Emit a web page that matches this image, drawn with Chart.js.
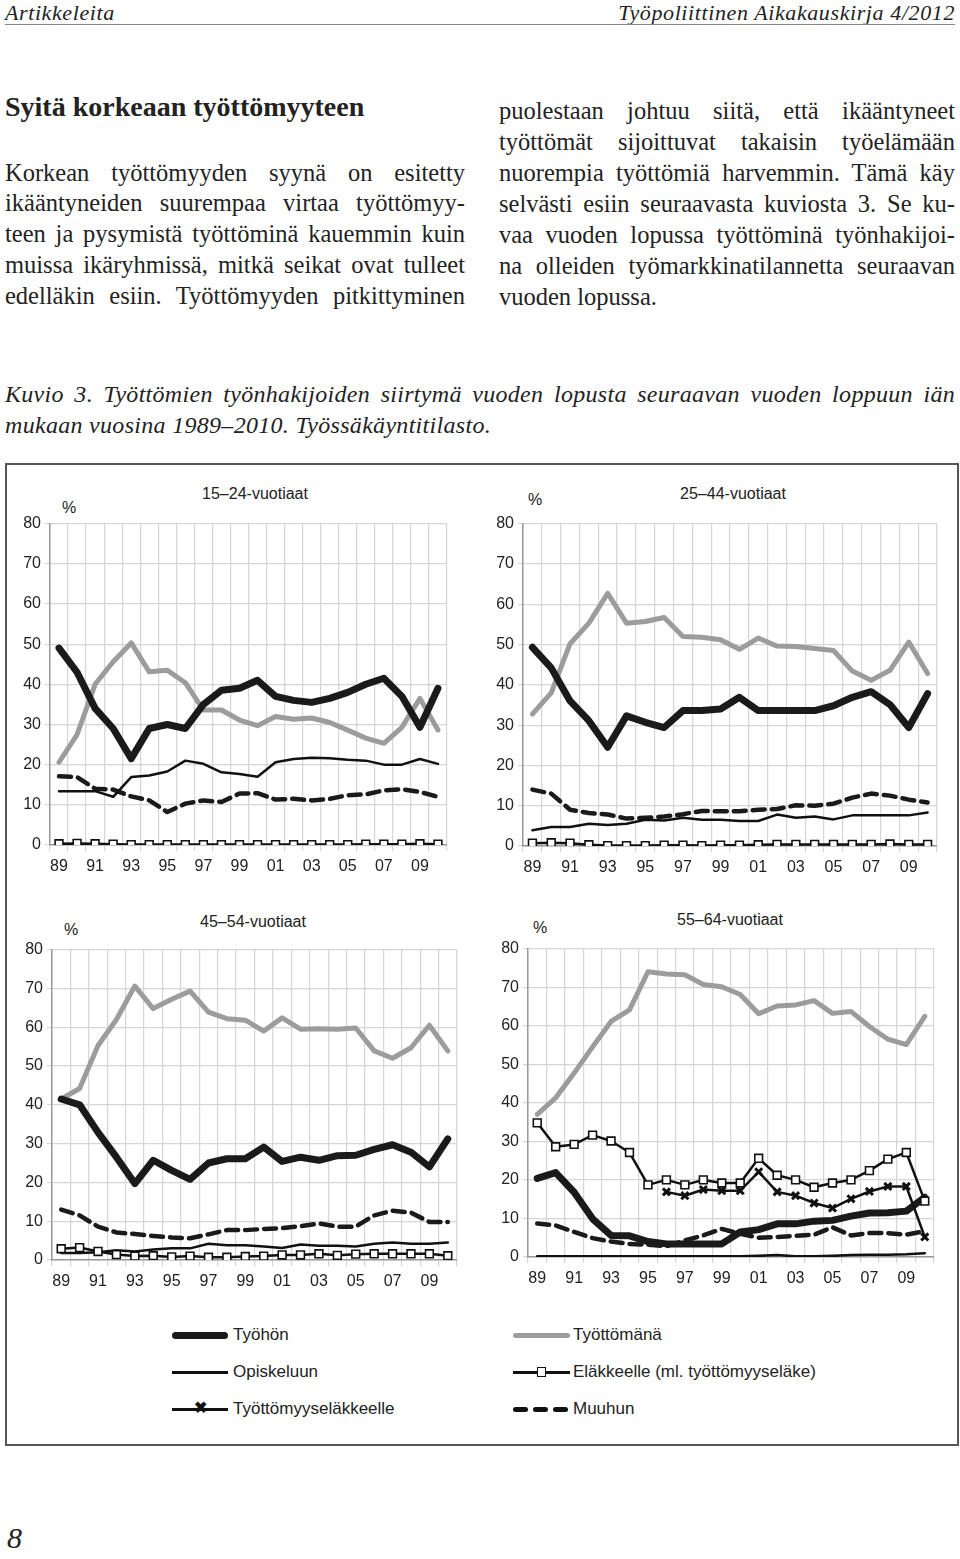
<!DOCTYPE html>
<html>
<head>
<meta charset="utf-8">
<script src="https://cdn.jsdelivr.net/npm/chart.js@4.4.1/dist/chart.umd.min.js"></script>
<style>
  body { margin: 0; background: #fff; width: 960px; height: 1559px; position: relative; overflow: hidden; }
  .abs { position: absolute; }
  .serif { font-family: "Liberation Serif", "Times New Roman", serif; color: #222; }
  .line { position: absolute; white-space: nowrap; text-align: justify; text-align-last: justify; font-size: 24.5px; line-height: 26px; }
  .sans { font-family: "Liberation Sans", Arial, sans-serif; color: #222; }
  .ttl { font-size: 16px; transform: translate(-50%, -50%); white-space: nowrap; }
  .pct { font-size: 16px; }
  .leg { font-size: 17px; }
  .sw { position: absolute; }
  canvas { position: absolute; }
</style>
</head>
<body>

<div class="abs serif" style="left:5px;top:0px;font-size:22px;letter-spacing:0.6px;font-style:italic;">Artikkeleita</div>
<div class="abs serif" style="right:5px;top:0px;font-size:22px;letter-spacing:0.6px;font-style:italic;">Työpoliittinen Aikakauskirja 4/2012</div>
<div class="abs" style="left:5px;top:24px;width:950px;height:1px;background:#888;"></div>

<div class="abs serif" style="left:5px;top:91px;font-size:28px;font-weight:bold;">Syitä korkeaan työttömyyteen</div>

<div class="line serif" style="left:5px;width:460px;top:160px;">Korkean työttömyyden syynä on esitetty</div>
<div class="line serif" style="left:5px;width:460px;top:190px;">ikääntyneiden suurempaa virtaa työttömyy-</div>
<div class="line serif" style="left:5px;width:460px;top:221px;">teen ja pysymistä työttöminä kauemmin kuin</div>
<div class="line serif" style="left:5px;width:460px;top:252px;">muissa ikäryhmissä, mitkä seikat ovat tulleet</div>
<div class="line serif" style="left:5px;width:460px;top:283px;">edelläkin esiin. Työttömyyden pitkittyminen</div>

<div class="line serif" style="left:499px;width:456px;top:98px;">puolestaan johtuu siitä, että ikääntyneet</div>
<div class="line serif" style="left:499px;width:456px;top:129px;">työttömät sijoittuvat takaisin työelämään</div>
<div class="line serif" style="left:499px;width:456px;top:160px;">nuorempia työttömiä harvemmin. Tämä käy</div>
<div class="line serif" style="left:499px;width:456px;top:191px;">selvästi esiin seuraavasta kuviosta 3. Se ku-</div>
<div class="line serif" style="left:499px;width:456px;top:222px;">vaa vuoden lopussa työttöminä työnhakijoi-</div>
<div class="line serif" style="left:499px;width:456px;top:253px;">na olleiden työmarkkinatilannetta seuraavan</div>
<div class="abs serif" style="left:499px;top:284px;font-size:24.5px;line-height:26px;">vuoden lopussa.</div>

<div class="line serif" style="left:5px;width:950px;top:381px;font-size:24px;letter-spacing:0.3px;font-style:italic;">Kuvio 3. Työttömien työnhakijoiden siirtymä vuoden lopusta seuraavan vuoden loppuun iän</div>
<div class="abs serif" style="left:5px;top:412px;font-size:24px;letter-spacing:0.3px;line-height:26px;font-style:italic;">mukaan vuosina 1989–2010. Työssäkäyntitilasto.</div>

<div class="abs" style="left:5px;top:463px;width:950px;height:979px;border:2px solid #555;"></div>

<div class="abs sans ttl" style="left:255px;top:494px;">15–24-vuotiaat</div>
<div class="abs sans pct" style="left:62px;top:499px;">%</div>
<div class="abs sans ttl" style="left:733px;top:494px;">25–44-vuotiaat</div>
<div class="abs sans pct" style="left:528px;top:491px;">%</div>
<div class="abs sans ttl" style="left:253px;top:922px;">45–54-vuotiaat</div>
<div class="abs sans pct" style="left:64px;top:921px;">%</div>
<div class="abs sans ttl" style="left:730px;top:920px;">55–64-vuotiaat</div>
<div class="abs sans pct" style="left:533px;top:919px;">%</div>

<canvas id="c1" width="450" height="368" style="left:5px;top:510px;"></canvas>
<canvas id="c2" width="467" height="369" style="left:478px;top:510px;"></canvas>
<canvas id="c3" width="458" height="357" style="left:7px;top:936px;"></canvas>
<canvas id="c4" width="459" height="355" style="left:483px;top:935px;"></canvas>

<!-- legend -->
<div class="sw" style="left:172px;top:1332px;width:56px;height:7px;border-radius:4px;background:#1a1a1a;"></div>
<div class="abs sans leg" style="left:233px;top:1325px;">Työhön</div>
<div class="sw" style="left:172px;top:1371px;width:56px;height:3px;background:#111;"></div>
<div class="abs sans leg" style="left:233px;top:1362px;">Opiskeluun</div>
<div class="sw" style="left:172px;top:1408px;width:56px;height:3px;background:#111;"></div>
<div class="abs sans" style="left:194px;top:1398px;font-size:16px;font-weight:bold;color:#111;">✖</div>
<div class="abs sans leg" style="left:233px;top:1399px;">Työttömyyseläkkeelle</div>

<div class="sw" style="left:513px;top:1333px;width:57px;height:5px;border-radius:3px;background:#9c9c9c;"></div>
<div class="abs sans leg" style="left:573px;top:1325px;">Työttömänä</div>
<div class="sw" style="left:513px;top:1371px;width:57px;height:3px;background:#111;"></div>
<div class="sw" style="left:537px;top:1367px;width:7px;height:8px;background:#fff;border:1.5px solid #111;"></div>
<div class="abs sans leg" style="left:573px;top:1362px;">Eläkkeelle (ml. työttömyyseläke)</div>
<div class="sw" style="left:513px;top:1407px;width:15px;height:5px;border-radius:3px;background:#111;"></div>
<div class="sw" style="left:533px;top:1407px;width:15px;height:5px;border-radius:3px;background:#111;"></div>
<div class="sw" style="left:553px;top:1407px;width:15px;height:5px;border-radius:3px;background:#111;"></div>
<div class="abs sans leg" style="left:573px;top:1399px;">Muuhun</div>

<div class="abs serif" style="left:7px;top:1521px;font-size:30px;font-style:italic;">8</div>

<script>
var years = ['89','90','91','92','93','94','95','96','97','98','99','00','01','02','03','04','05','06','07','08','09','10'];
var titles = ['15–24-vuotiaat', '25–44-vuotiaat', '45–54-vuotiaat', '55–64-vuotiaat'];

// 15-24
var tyohon1 = [49,43,34,29,21.5,29,30,29,35,38.5,39,41,37,36,35.5,36.5,38,40,41.5,37,29.3,39];
var tyotton1 = [20.6,27.5,40,45.6,50.3,43.1,43.5,40.4,33.6,33.6,31.1,29.7,32,31.3,31.6,30.5,28.6,26.6,25.3,29.3,36.5,28.6];
var opisk1 = [13.4,13.4,13.4,12,16.9,17.3,18.3,21,20.2,18.1,17.7,17,20.6,21.4,21.7,21.6,21.2,21,20,20,21.4,20.2];
var muuhun1 = [17.1,16.9,14,13.8,12.1,11.1,8.2,10.3,11.1,10.7,12.8,12.9,11.3,11.5,11.1,11.5,12.4,12.6,13.6,13.9,13.2,12];
var elake1 = [0.3,0.4,0.3,0.2,0.1,0.1,0.1,0.1,0.1,0.1,0.1,0.1,0.1,0.1,0.1,0.1,0.1,0.2,0.2,0.2,0.3,0.2];

// 25-44
var tyohon2 = [49.3,44.2,36,31.1,24.5,32.3,30.7,29.4,33.6,33.6,34,36.9,33.6,33.6,33.6,33.6,34.8,36.9,38.3,35.1,29.4,37.8];
var tyotton2 = [32.7,38,50.2,55.3,62.7,55.3,55.7,56.7,52,51.8,51.2,48.8,51.6,49.6,49.5,49,48.5,43.4,41.1,43.6,50.6,42.8];
var opisk2 = [3.9,4.7,4.7,5.5,5.2,5.5,6.5,6.3,7,6.5,6.5,6.2,6.2,7.8,7,7.3,6.6,7.6,7.6,7.6,7.6,8.3];
var muuhun2 = [14,13,9,8.2,7.8,6.8,7,7.3,7.9,8.7,8.6,8.6,9,9.2,10.1,10,10.5,12,13,12.5,11.5,10.8];
var elake2 = [0.7,0.8,0.7,0.3,0.1,0.1,0.1,0.2,0.2,0.1,0.2,0.2,0.3,0.4,0.4,0.4,0.4,0.4,0.4,0.5,0.4,0.4];

// 45-54
var tyohon3 = [41.5,40,32.9,26.5,19.7,25.7,23.1,20.8,25,26.1,26.1,29.1,25.4,26.5,25.7,26.9,27,28.5,29.7,27.8,24,31.2];
var tyotton3 = [41.5,44.2,55.3,62,70.6,64.8,67.2,69.3,63.9,62.2,61.8,59,62.4,59.5,59.6,59.5,59.8,53.9,52,54.7,60.5,53.9];
var opisk3 = [1.8,1.8,2,2.5,2.2,2.7,3,3,4.2,3.8,3.8,3.5,3.1,4,3.7,3.7,3.5,4.2,4.5,4.2,4.2,4.5];
var muuhun3 = [13,11.5,8.6,7.1,6.7,6.2,5.8,5.6,6.6,7.7,7.7,8,8.2,8.7,9.4,8.6,8.6,11.5,12.7,12.2,9.8,9.8];
var elake3 = [2.9,3.2,2.2,1.4,1,1.1,0.8,1,0.7,0.7,0.9,1,1.3,1.3,1.6,1.2,1.5,1.6,1.6,1.6,1.6,1.1];

// 55-64
var tyohon4 = [20.4,21.9,16.8,9.9,5.6,5.5,4,3.4,3.4,3.4,3.4,6.5,7.1,8.6,8.6,9.3,9.5,10.6,11.4,11.5,11.9,15.5];
var tyotton4 = [37,41.3,47.7,54.5,61.1,64.1,74,73.4,73.2,70.7,70.1,68.1,63.1,65.1,65.4,66.5,63.2,63.7,59.8,56.5,55.1,62.4];
var opisk4 = [0.2,0.2,0.2,0.2,0.2,0.2,0.2,0.2,0.2,0.2,0.2,0.2,0.3,0.5,0.2,0.2,0.3,0.5,0.6,0.6,0.7,1];
var muuhun4 = [8.7,8.2,6.5,4.9,4,3.4,3.2,2.8,4.3,5.6,7.3,6,5,5.2,5.5,5.8,7.7,5.6,6.2,6.2,5.8,6.7];
var elake4 = [34.8,28.6,29.2,31.6,30.1,27.1,18.7,20,18.7,20,19.2,19.2,25.6,21.2,20,18.1,19.2,20,22.4,25.4,27.1,14.5];
var tyelake4 = [null,null,null,null,null,null,null,16.9,15.9,17.5,17.2,17.2,22.1,16.9,15.9,14,12.7,15.1,17,18.3,18.3,5.2];

var yTicks = [0,10,20,30,40,50,60,70,80];

function makeSets(tyohon, tyotton, opisk, muuhun, elake, tyelake) {
  var sets = [];
  sets.push({ label: 'Eläkkeelle (ml. työttömyyseläke)', data: elake, borderColor: '#111', borderWidth: 2.5,
    pointStyle: 'rect', pointRadius: 5.5, pointBackgroundColor: '#fff', pointBorderColor: '#111', pointBorderWidth: 1.6 });
  if (tyelake) {
    sets.push({ label: 'Työttömyyseläkkeelle', data: tyelake, borderColor: '#111', borderWidth: 2.5,
      pointStyle: 'crossRot', pointRadius: 5, pointBorderColor: '#111', pointBorderWidth: 3, spanGaps: false });
  }
  sets.push({ label: 'Opiskeluun', data: opisk, borderColor: '#111', borderWidth: 2.5, pointRadius: 0 });
  sets.push({ label: 'Muuhun', data: muuhun, borderColor: '#1a1a1a', borderWidth: 4.5, borderDash: [12, 7], pointRadius: 0 });
  sets.push({ label: 'Työhön', data: tyohon, borderColor: '#1a1a1a', borderWidth: 7, pointRadius: 0 });
  sets.push({ label: 'Työttömänä', data: tyotton, borderColor: '#9c9c9c', borderWidth: 5, pointRadius: 0 });
  return sets;
}

function makeChart(id, sets) {
  return new Chart(document.getElementById(id), {
    type: 'line',
    data: { labels: years, datasets: sets },
    options: {
      responsive: false,
      animation: false,
      devicePixelRatio: 1,
      layout: { padding: { top: 12, right: 8, left: 0, bottom: 0 } },
      elements: { line: { tension: 0, borderJoinStyle: 'round', borderCapStyle: 'round' } },
      plugins: { legend: { display: false }, tooltip: { enabled: false } },
      scales: {
        x: {
          offset: true,
          grid: { offset: true, color: '#d6d6d6', lineWidth: 1.2, tickLength: 6 },
          border: { color: '#999', width: 1.5 },
          afterFit: function(s) { s.height = 33; },
          ticks: {
            autoSkip: false, maxRotation: 0, padding: 6, color: '#222',
            font: { family: 'Liberation Sans, Arial, sans-serif', size: 16 },
            callback: function(v, i) { return i % 2 === 0 ? years[i] : ''; }
          }
        },
        y: {
          min: 0, max: 80,
          afterBuildTicks: function(s) { s.ticks = yTicks.map(function(v) { return { value: v }; }); },
          grid: { color: '#d6d6d6', lineWidth: 1.2, tickLength: 5 },
          border: { color: '#999', width: 1.5 },
          afterFit: function(s) { s.width = 45; },
          ticks: { padding: 4, color: '#222', font: { family: 'Liberation Sans, Arial, sans-serif', size: 16 } }
        }
      }
    }
  });
}

makeChart('c1', makeSets(tyohon1, tyotton1, opisk1, muuhun1, elake1));
makeChart('c2', makeSets(tyohon2, tyotton2, opisk2, muuhun2, elake2));
makeChart('c3', makeSets(tyohon3, tyotton3, opisk3, muuhun3, elake3));
makeChart('c4', makeSets(tyohon4, tyotton4, opisk4, muuhun4, elake4, tyelake4));
</script>
</body>
</html>
